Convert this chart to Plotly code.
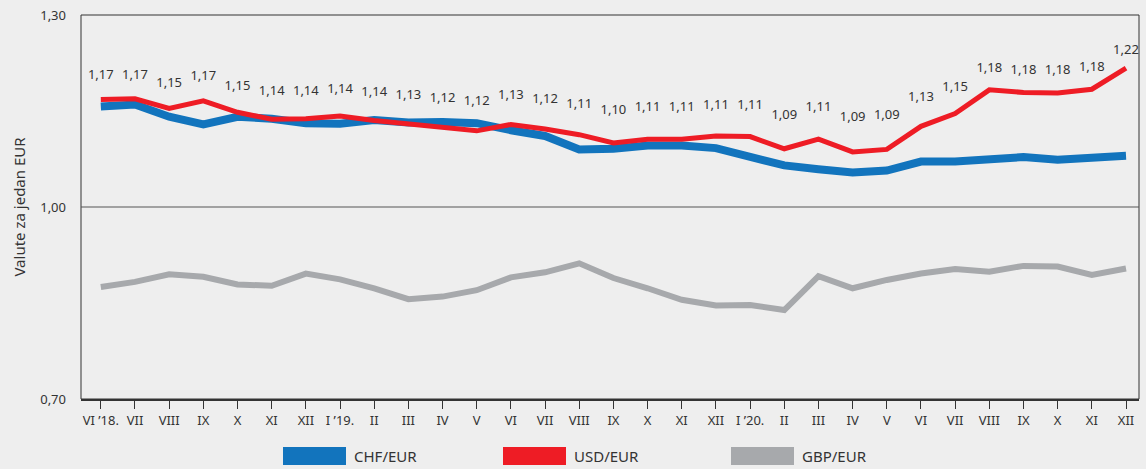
import plotly.graph_objects as go

BG = "#EEEEEE"
INK = "#333333"
FONT = "Noto Sans"

months = ["VI ’18.", "VII", "VIII", "IX", "X", "XI", "XII", "I ’19.", "II", "III",
          "IV", "V", "VI", "VII", "VIII", "IX", "X", "XI", "XII", "I ’20.",
          "II", "III", "IV", "V", "VI", "VII", "VIII", "IX", "X", "XI", "XII"]

chf = [1.157, 1.160, 1.141, 1.129, 1.141, 1.138, 1.131, 1.130, 1.136, 1.132,
       1.133, 1.131, 1.120, 1.111, 1.090, 1.091, 1.096, 1.096, 1.092, 1.077,
       1.065, 1.059, 1.054, 1.057, 1.071, 1.071, 1.076, 1.078, 1.074, 1.078, 1.080]

usd = [1.168, 1.169, 1.154, 1.166, 1.148, 1.137, 1.138, 1.142, 1.135, 1.130,
       1.124, 1.119, 1.129, 1.122, 1.113, 1.100, 1.106, 1.106, 1.111, 1.110,
       1.091, 1.106, 1.086, 1.090, 1.126, 1.146, 1.183, 1.179, 1.178, 1.184, 1.217]

gbp = [0.875, 0.883, 0.895, 0.891, 0.879, 0.877, 0.896, 0.887, 0.873, 0.856,
       0.860, 0.870, 0.890, 0.898, 0.912, 0.889, 0.873, 0.855, 0.846, 0.847,
       0.839, 0.892, 0.873, 0.886, 0.896, 0.903, 0.899, 0.908, 0.907, 0.894, 0.904]

y_ticks = [0.70, 1.00, 1.30]

x = list(range(len(months)))


def fmt(v):
    return f"{v:.2f}".replace(".", ",")


fig = go.Figure()

fig.add_trace(go.Scatter(x=x, y=gbp, mode="lines", name="GBP/EUR",
                         line=dict(color="#A7A9AC", width=6), hoverinfo="skip"))
fig.add_trace(go.Scatter(x=x, y=chf, mode="lines", name="CHF/EUR",
                         line=dict(color="#1274BD", width=8), hoverinfo="skip"))
fig.add_trace(go.Scatter(x=x, y=usd, mode="lines", name="USD/EUR",
                         line=dict(color="#EE1C25", width=5), hoverinfo="skip"))

# USD value labels, floated above the red line
fig.add_trace(go.Scatter(
    x=x, y=[0.27 + 0.8 * v for v in usd], mode="text",
    text=[fmt(v) for v in usd], textfont=dict(size=13, color=INK, family=FONT),
    hoverinfo="skip"))

# ── legend drawn by hand (wide colour blocks) ──
legend_items = [("CHF/EUR", "#1274BD", 283), ("USD/EUR", "#EE1C25", 503), ("GBP/EUR", "#A7A9AC", 731)]
W, H = 1146, 469
ML, MR, MT, MB = 81, 7, 15, 70
pw = W - ML - MR
ph = H - MT - MB
shapes = []
annotations = []
for name, col, px in legend_items:
    x0 = (px - ML) / pw
    x1 = (px + 63 - ML) / pw
    shapes.append(dict(type="rect", xref="paper", yref="paper", x0=x0, x1=x1,
                       y0=-(465 - (H - MB)) / ph, y1=-(447 - (H - MB)) / ph,
                       fillcolor=col, line=dict(width=0)))
    annotations.append(dict(xref="paper", yref="paper", x=(px + 69 - ML) / pw,
                            y=-(456 - (H - MB)) / ph, xanchor="left", yanchor="middle",
                            text=name, showarrow=False,
                            font=dict(size=15, color=INK, family=FONT)))

# frame + 1,00 reference line
shapes.append(dict(type="rect", xref="paper", yref="paper", x0=0, x1=1, y0=0, y1=1,
                   line=dict(color=INK, width=1), layer="below"))
shapes.append(dict(type="line", xref="paper", yref="y", x0=0, x1=1, y0=1.0, y1=1.0,
                   line=dict(color="#555555", width=1), layer="below"))

fig.update_layout(
    width=W, height=H,
    paper_bgcolor=BG, plot_bgcolor=BG,
    margin=dict(l=ML, r=MR, t=MT, b=MB),
    showlegend=False,
    font=dict(family=FONT, color=INK, size=13),
    shapes=shapes,
    annotations=annotations,
    xaxis=dict(
        range=[-0.58, len(months) - 1 + 0.38],
        tickvals=x, ticktext=months,
        ticks="outside", ticklen=8, tickcolor=INK, tickwidth=1,
        showgrid=False, zeroline=False,
        showline=True, linecolor=INK, linewidth=2,
        tickfont=dict(size=13, color=INK),
        tickangle=0,
    ),
    yaxis=dict(
        range=[0.70, 1.30],
        tickvals=y_ticks, ticktext=[fmt(v) for v in y_ticks],
        ticks="", showgrid=False, zeroline=False,
        showline=False,
        ticklabelstandoff=14,
        tickfont=dict(size=13, color=INK),
        title=dict(text="Valute za jedan EUR", font=dict(size=15, color=INK), standoff=10),
    ),
)

# page has a default 8px body margin; drop it so the figure fills the window
fig.write_html("out.html", config={"displayModeBar": False},
               post_script="document.body.style.margin='0';")
